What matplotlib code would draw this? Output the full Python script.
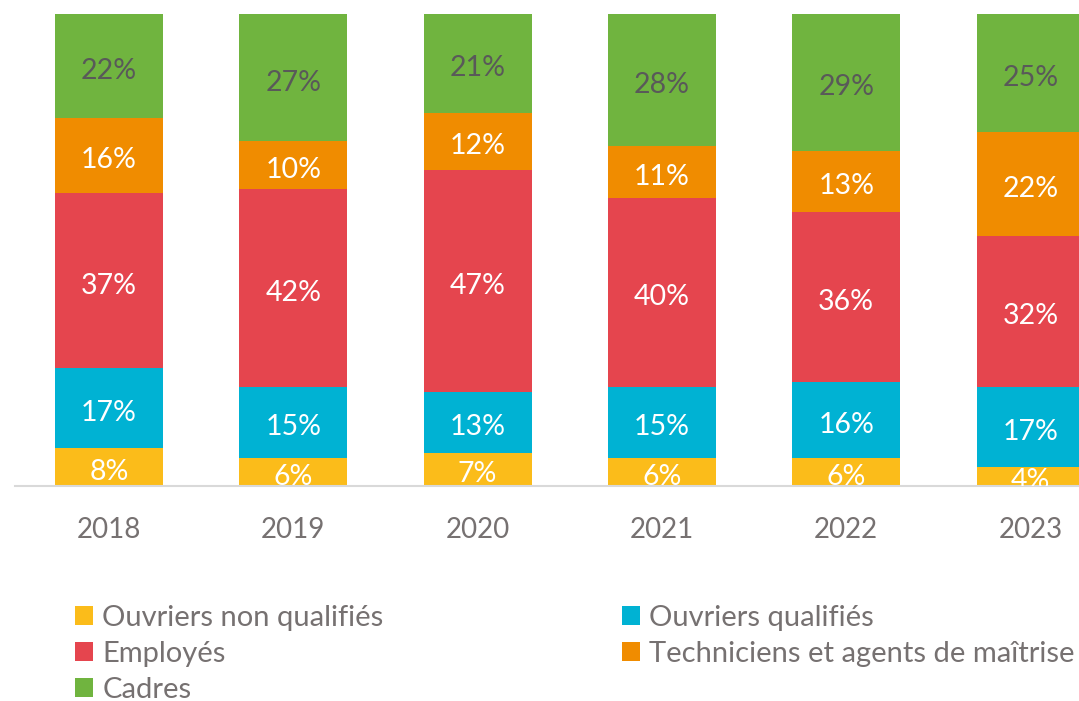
import matplotlib
matplotlib.use("Agg")
import matplotlib.pyplot as plt
from matplotlib.patches import Patch
from matplotlib.transforms import offset_copy

years = ["2018", "2019", "2020", "2021", "2022", "2023"]
series_names = ["Ouvriers non qualifiés", "Ouvriers qualifiés", "Employés",
                "Techniciens et agents de maîtrise", "Cadres"]
ouvriers_nq = [8, 6, 7, 6, 6, 4]
ouvriers_q = [17, 15, 13, 15, 16, 17]
employes = [37, 42, 47, 40, 36, 32]
techniciens = [16, 10, 12, 11, 13, 22]
cadres = [22, 27, 21, 28, 29, 25]

colors = ["#FBBC1A", "#00B2D3", "#E5454E", "#F08C00", "#70B43F"]
label_colors = ["white", "white", "white", "white", "#595959"]

plt.rcParams['font.family'] = ['Lato', 'DejaVu Sans']

fig = plt.figure(figsize=(10.79, 7.01), dpi=100)
W, H = 1079, 701
ax = fig.add_axes([15 / W, (H - 486) / H, (W - 15) / W, (486 - 14) / H])
txt_tr = offset_copy(ax.transData, fig=fig, x=0, y=-3.5, units='points')

data = [ouvriers_nq, ouvriers_q, employes, techniciens, cadres]
x = list(range(len(years)))
bottom = [0] * len(years)
for vals, col, lc, name in zip(data, colors, label_colors, series_names):
    ax.bar(x, vals, width=0.586, bottom=bottom, color=col, label=name,
           edgecolor='none')
    for xi, v, b in zip(x, vals, bottom):
        ax.text(xi, b + v / 2, f"{v}%", ha='center', va='center',
                color=lc, fontsize=20.5, clip_on=True, transform=txt_tr)
    bottom = [b + v for b, v in zip(bottom, vals)]

ax.set_xlim(-0.51, 5.263)
ax.set_ylim(0, 100)
ax.set_xticks(x)
ax.set_xticklabels(years, fontsize=20, color="#767171")
ax.tick_params(axis='x', length=0, pad=22)
ax.set_yticks([])
for s in ['top', 'right', 'left']:
    ax.spines[s].set_visible(False)
ax.spines['bottom'].set_color('#D9D9D9')
ax.spines['bottom'].set_linewidth(1.5)

handles = [Patch(facecolor=c, edgecolor='none') for c in colors]
common = dict(loc='upper left', frameon=False, fontsize=21, labelcolor="#767171",
              handlelength=0.62, handleheight=0.62, handletextpad=0.32,
              labelspacing=0.34, borderpad=0, borderaxespad=0)
fig.legend([handles[0], handles[2], handles[4]],
           [series_names[0], series_names[2], series_names[4]],
           bbox_to_anchor=(75 / W, (H - 605) / H), **common)
fig.legend([handles[1], handles[3]],
           [series_names[1], series_names[3]],
           bbox_to_anchor=(622 / W, (H - 605) / H), **common)

fig.savefig("out.png", dpi=100)
